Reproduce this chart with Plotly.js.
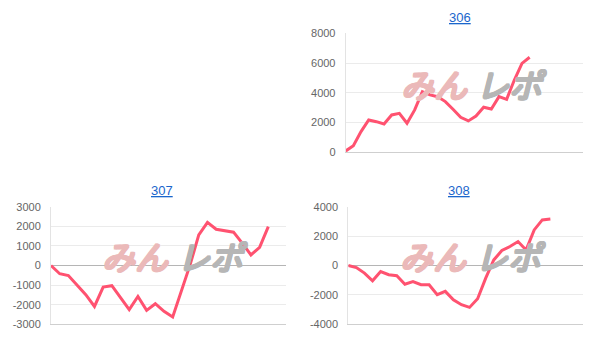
<!DOCTYPE html>
<html>
<head>
<meta charset="utf-8">
<script src="https://cdn.plot.ly/plotly-3.0.1.min.js"></script>
<style>html,body{margin:0;padding:0;background:#fff;}#chart{width:613px;height:357px;}</style>
</head>
<body>
<div id="chart"></div>
<script>
// ---- data ----
var titles = ['306', '307', '308'];
var values306 = [90, 450, 1390, 2170, 2060, 1900, 2510, 2620, 1950, 2850, 4080, 3860, 3740, 3410, 2890, 2350, 2110, 2440, 3030, 2910, 3740, 3560, 4860, 5980, 6390];
var values307 = [0, -420, -510, -980, -1490, -2090, -1100, -1030, -1660, -2250, -1580, -2290, -1950, -2340, -2630, -1320, 30, 1560, 2200, 1850, 1760, 1700, 1140, 540, 930, 1980];
var values308 = [0, -140, -520, -1040, -410, -630, -700, -1270, -1090, -1310, -1310, -1990, -1760, -2330, -2670, -2850, -2260, -860, 380, 1020, 1290, 1630, 1060, 2420, 3100, 3160];
var ticks306 = [0, 2000, 4000, 6000, 8000];
var tickText306 = ['0', '2000', '4000', '6000', '8000'];
var ticks307 = [-3000, -2000, -1000, 0, 1000, 2000, 3000];
var tickText307 = ['-3000', '-2000', '-1000', '0', '1000', '2000', '3000'];
var ticks308 = [-4000, -2000, 0, 2000, 4000];
var tickText308 = ['-4000', '-2000', '0', '2000', '4000'];
var watermarkA = 'みん';
var watermarkB = 'レポ';

function idx(arr) { return arr.map(function (_, i) { return i; }); }

var lineStyle = {color: 'rgb(255,82,112)', width: 3};
var traces = [
  {x: idx(values306), y: values306, xaxis: 'x', yaxis: 'y', type: 'scatter', mode: 'lines', line: lineStyle, hoverinfo: 'none'},
  {x: idx(values307), y: values307, xaxis: 'x2', yaxis: 'y2', type: 'scatter', mode: 'lines', line: lineStyle, hoverinfo: 'none'},
  {x: idx(values308), y: values308, xaxis: 'x3', yaxis: 'y3', type: 'scatter', mode: 'lines', line: lineStyle, hoverinfo: 'none'}
];

var W = 613, H = 357;
function px(x) { return x / W; }
function py(y) { return (H - y) / H; }

function xax(l, r, anchor, rng) {
  return {domain: [px(l), px(r)], anchor: anchor, range: rng, showgrid: false, zeroline: false,
    showticklabels: false, ticks: '', showline: true, linecolor: '#cfcfcf', linewidth: 1, fixedrange: true};
}
function yax(t, b, anchor, rng, tv, tt) {
  return {domain: [py(b), py(t)], anchor: anchor, range: rng, tickvals: tv, ticktext: tt,
    showgrid: true, gridcolor: '#ebebeb', gridwidth: 1, zeroline: true, zerolinecolor: '#b5b5b5', zerolinewidth: 1,
    showline: true, linecolor: '#e3e3e3', linewidth: 1, ticks: '', ticklabelstandoff: 7,
    tickfont: {family: 'Liberation Sans, Arial, sans-serif', size: 11, color: '#666666'}, fixedrange: true};
}

var titleFont = {family: 'Liberation Sans, Arial, sans-serif', size: 13, color: '#1a66cc', lineposition: 'under'};
function titleAnn(text, x, y) {
  return {text: text, x: px(x), y: py(y), xref: 'paper', yref: 'paper', xanchor: 'center', yanchor: 'middle', showarrow: false, font: titleFont};
}
function thick(c) {
  return '1px 0 0 ' + c + ', -1px 0 0 ' + c + ', 0 1px 0 ' + c + ', 0 -1px 0 ' + c + ', 1px 1px 0 ' + c + ', -1px -1px 0 ' + c + ', 1px -1px 0 ' + c + ', -1px 1px 0 ' + c;
}
function wm(cx, cy) {
  var pink = '#ebb9b9', gray = '#b6b6b6';
  return [
    {text: '<i>' + watermarkA + '</i>', x: px(cx - 3), y: py(cy), xref: 'paper', yref: 'paper', xanchor: 'right', yanchor: 'middle', showarrow: false,
      font: {family: 'Noto Sans CJK JP', size: 33, color: pink, shadow: thick(pink)}},
    {text: '<i>' + watermarkB + '</i>', x: px(cx + 1), y: py(cy), xref: 'paper', yref: 'paper', xanchor: 'left', yanchor: 'middle', showarrow: false,
      font: {family: 'Noto Sans CJK JP', size: 33, color: gray, shadow: thick(gray)}}
  ];
}

var layout = {
  width: W, height: H, margin: {l: 0, r: 0, t: 0, b: 0}, showlegend: false,
  paper_bgcolor: '#ffffff', plot_bgcolor: 'rgba(0,0,0,0)',
  xaxis: xax(345.7, 583.3, 'y', [0, 31]),
  yaxis: yax(33.3, 152.3, 'x', [0, 8000], ticks306, tickText306),
  xaxis2: xax(51, 285.7, 'y2', [0, 27]),
  yaxis2: yax(206.7, 324.3, 'x2', [-3000, 3000], ticks307, tickText307),
  xaxis3: xax(348.3, 582.7, 'y3', [0, 29]),
  yaxis3: yax(206.7, 324.3, 'x3', [-4000, 4000], ticks308, tickText308),
  annotations: [
    titleAnn(titles[0], 460, 17),
    titleAnn(titles[1], 162, 190),
    titleAnn(titles[2], 459, 190)
  ].concat(wm(473, 84), wm(174, 256), wm(472, 256))
};
layout.annotations.forEach(function (a) { a.layer = 'below'; });

Plotly.newPlot('chart', traces, layout, {staticPlot: true, displayModeBar: false});
</script>
</body>
</html>
